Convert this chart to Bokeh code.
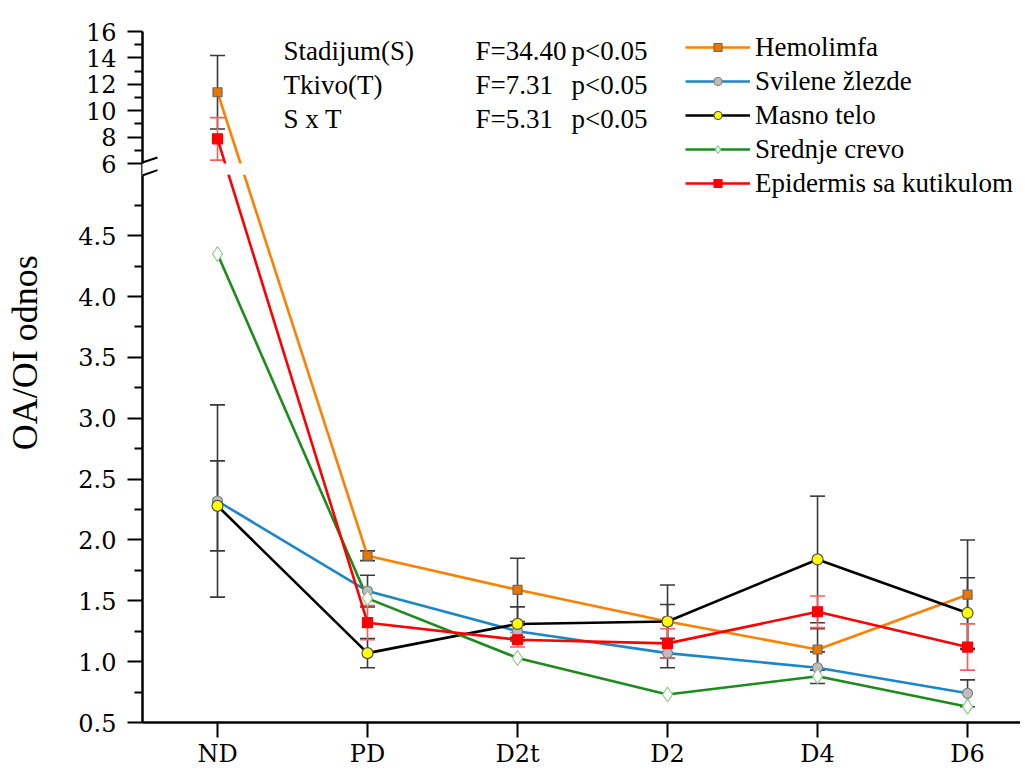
import math
from bokeh.plotting import figure
from bokeh.layouts import row
from bokeh.models import (ColumnDataSource, CustomJSTransform, Range1d, FixedTicker,
                          CustomJSTickFormatter, Legend, LegendItem, Label,
                          BoxAnnotation, Arrow)
from bokeh.transform import transform
from bokeh.embed import file_html
from bokeh.resources import INLINE

# ---------------- data ----------------
stages = ["ND", "PD", "D2t", "D2", "D4", "D6"]
series_names = ["Hemolimfa", "Svilene žlezde", "Masno telo", "Srednje crevo",
                "Epidermis sa kutikulom"]
hemolimfa = [11.4, 1.87, 1.59, 1.33, 1.10, 1.55]
hemolimfa_err = [2.78, 0.04, 0.26, 0.14, 0.17, 0.45]
svilene = [2.32, 1.58, 1.25, 1.07, 0.95, 0.74]
svilene_err = [0.79, 0.13, 0.05, 0.12, 0.13, 0.11]
masno = [2.28, 1.07, 1.31, 1.33, 1.84, 1.40]
masno_err = [0.37, 0.12, 0.14, 0.30, 0.52, 0.29]
srednje = [4.35, 1.52, 1.03, 0.73, 0.88, 0.63]
epidermis = [7.87, 1.32, 1.18, 1.15, 1.41, 1.12]
epidermis_err = [1.61, 0.14, 0.06, 0.12, 0.13, 0.19]

lower_major = [0.5, 1.0, 1.5, 2.0, 2.5, 3.0, 3.5, 4.0, 4.5]
lower_minor = [0.75, 1.25, 1.75, 2.25, 2.75, 3.25, 3.75, 4.25, 4.75]
upper_major = [6, 8, 10, 12, 14, 16]
upper_minor = [7, 9, 11, 13, 15]

y_title = "OA/OI odnos"
stat_names = ["Stadijum(S)", "Tkivo(T)", "S x T"]
stat_f = ["F=34.40", "F=7.31", "F=5.31"]
stat_p = ["p<0.05", "p<0.05", "p<0.05"]

# ---------------- broken axis mapping ----------------
BREAK_LO = 5.0       # top of lower segment
UPPER_START = 5.093  # axis position of value 6
UPPER_SCALE = 0.1085 # axis units per value unit in the upper segment


def brk(v):
    if v <= BREAK_LO:
        return v
    if v >= 6:
        return UPPER_START + (v - 6) * UPPER_SCALE
    return BREAK_LO + (v - BREAK_LO) * (UPPER_START - BREAK_LO)


y_top = brk(16)

ytr = CustomJSTransform(
    args=dict(lo=BREAK_LO, d6=UPPER_START, k=UPPER_SCALE),
    func="""
    if (x <= lo) return x;
    if (x >= 6) return d6 + (x - 6) * k;
    return lo + (x - lo) * (d6 - lo);
    """,
    v_func="""
    const out = new Float64Array(xs.length);
    for (let i = 0; i < xs.length; i++) {
      const x = xs[i];
      out[i] = x <= lo ? x : (x >= 6 ? d6 + (x - 6) * k : lo + (x - lo) * (d6 - lo));
    }
    return out;
    """)

FONT_TICK = "DejaVu Serif"
FONT = "Liberation Serif"
H = 770
LW = 50  # width of the strip holding the y title

# ---------------- y title strip ----------------
lab = figure(width=LW, height=H, x_range=Range1d(0, LW), y_range=Range1d(0, H),
             output_backend="svg", toolbar_location=None, min_border=0,
             x_axis_location=None, y_axis_location=None)
lab.grid.visible = False
lab.outline_line_color = None
lab.add_layout(Label(x=24, y=H - 358, text=y_title, angle=math.pi / 2,
                     text_align="center", text_baseline="middle",
                     text_font=FONT, text_font_size="36px", text_color="black"))

# ---------------- main plot ----------------
p = figure(width=1020 - LW, height=H, x_range=Range1d(-0.5, 5.353),
           y_range=Range1d(0.5, y_top), output_backend="svg",
           toolbar_location=None, min_border_left=142 - LW, min_border_right=0,
           min_border_top=31, min_border_bottom=48)
p.xgrid.visible = False
p.ygrid.visible = False
p.outline_line_color = None
p.background_fill_color = "white"

xs = list(range(len(stages)))

series = [
    (series_names[0], hemolimfa, hemolimfa_err, "#FF8000", "square", 9, "#E87700", "#6a6a6a", "#3a3a3a"),
    (series_names[1], svilene, svilene_err, "#1B87C9", "circle", 10, "#BDBDBD", "#808080", "#3a3a3a"),
    (series_names[2], masno, masno_err, "#000000", "circle", 11, "#FFFF00", "#505050", "#3a3a3a"),
    (series_names[3], srednje, None, "#1C8C1C", "diamond", 15, "#FFFFFF", "#8ECC8E", None),
    (series_names[4], epidermis, epidermis_err, "#FF0000", "square", 10, "#FF0000", "#FF0000", "#FF5A5A"),
]

# error bars first
for name, vals, errs, col, mk, sz, fill, edge, ecol in series:
    if errs is None:
        continue
    src = ColumnDataSource(dict(x=xs, lo=[v - e for v, e in zip(vals, errs)],
                                hi=[v + e for v, e in zip(vals, errs)]))
    p.segment(x0="x", y0=transform("lo", ytr), x1="x", y1=transform("hi", ytr),
              source=src, line_color=ecol, line_width=1.6)
    p.scatter(x="x", y=transform("hi", ytr), source=src, marker="dash", size=15,
              line_color=ecol, line_width=1.6)
    p.scatter(x="x", y=transform("lo", ytr), source=src, marker="dash", size=15,
              line_color=ecol, line_width=1.6)

line_rs = []
for name, vals, errs, col, mk, sz, fill, edge, ecol in series:
    src = ColumnDataSource(dict(x=xs, y=vals))
    lr = p.line(x="x", y=transform("y", ytr), source=src, line_color=col, line_width=2.6)
    line_rs.append((lr, src))

items = []
for (name, vals, errs, col, mk, sz, fill, edge, ecol), (lr, src) in zip(series, line_rs):
    mr = p.scatter(x="x", y=transform("y", ytr), source=src, marker=mk, size=sz,
                   fill_color=fill, line_color=edge, line_width=1.2)
    items.append(LegendItem(label=name, renderers=[lr, mr]))

# gap in the lines at the axis break
p.add_layout(BoxAnnotation(bottom=BREAK_LO, top=UPPER_START, right=1.0,
                           fill_color="white", fill_alpha=1.0, line_alpha=0))

# axes
p.yaxis.ticker = FixedTicker(ticks=lower_major + [brk(v) for v in upper_major],
                             minor_ticks=lower_minor + [brk(v) for v in upper_minor])
p.yaxis.formatter = CustomJSTickFormatter(
    args=dict(lo=BREAK_LO, d6=UPPER_START, k=UPPER_SCALE),
    code="""
    if (tick < lo + 0.05) return tick.toFixed(1);
    return String(Math.round(6 + (tick - d6) / k));
    """)
for ax in (p.yaxis[0], p.xaxis[0]):
    ax.axis_line_width = 2.5
    ax.axis_line_color = "black"
    ax.major_tick_line_width = 2
    ax.major_tick_line_color = "black"
    ax.major_tick_out = 15
    ax.major_tick_in = 0
    ax.major_label_text_font = FONT_TICK
    ax.major_label_text_font_size = "24px"
    ax.major_label_text_color = "black"
p.yaxis.minor_tick_line_width = 2
p.yaxis.minor_tick_line_color = "black"
p.yaxis.minor_tick_out = 8
p.yaxis.minor_tick_in = 0
p.yaxis.major_label_standoff = 11

p.xaxis.ticker = FixedTicker(ticks=xs)
p.xaxis.major_label_overrides = {i: s for i, s in enumerate(stages)}
p.xaxis.minor_tick_line_color = None
p.xaxis.major_label_standoff = 2

# axis break marks
p.add_layout(Arrow(end=None, x_start=-0.5, y_start=4.99, x_end=-0.5, y_end=5.09,
                   line_color="white", line_width=6))
p.add_layout(Arrow(end=None, x_start=-0.6, y_start=5.0605, x_end=-0.4, y_end=5.143,
                   line_color="black", line_width=2))
p.add_layout(Arrow(end=None, x_start=-0.6, y_start=4.951, x_end=-0.4, y_end=5.039,
                   line_color="black", line_width=2))

# statistics text
row_y = [6.019, 5.740, 5.461]
for i in range(len(stat_names)):
    for xpos, txt in ((0.44, stat_names[i]), (1.72, stat_f[i]), (2.36, stat_p[i])):
        p.add_layout(Label(x=xpos, y=row_y[i], text=txt, text_align="left",
                           text_baseline="middle", text_font=FONT,
                           text_font_size="27px", text_color="black"))

legend = Legend(items=items, location=(543, 522), padding=0, margin=0, spacing=0,
                glyph_width=65, glyph_height=20, label_height=34, label_standoff=5,
                label_text_font=FONT, label_text_font_size="27px",
                label_text_color="black", border_line_alpha=0,
                background_fill_alpha=0)
p.add_layout(legend)

layout = row(lab, p, spacing=0)
open("out.html", "w").write(file_html(layout, INLINE))
